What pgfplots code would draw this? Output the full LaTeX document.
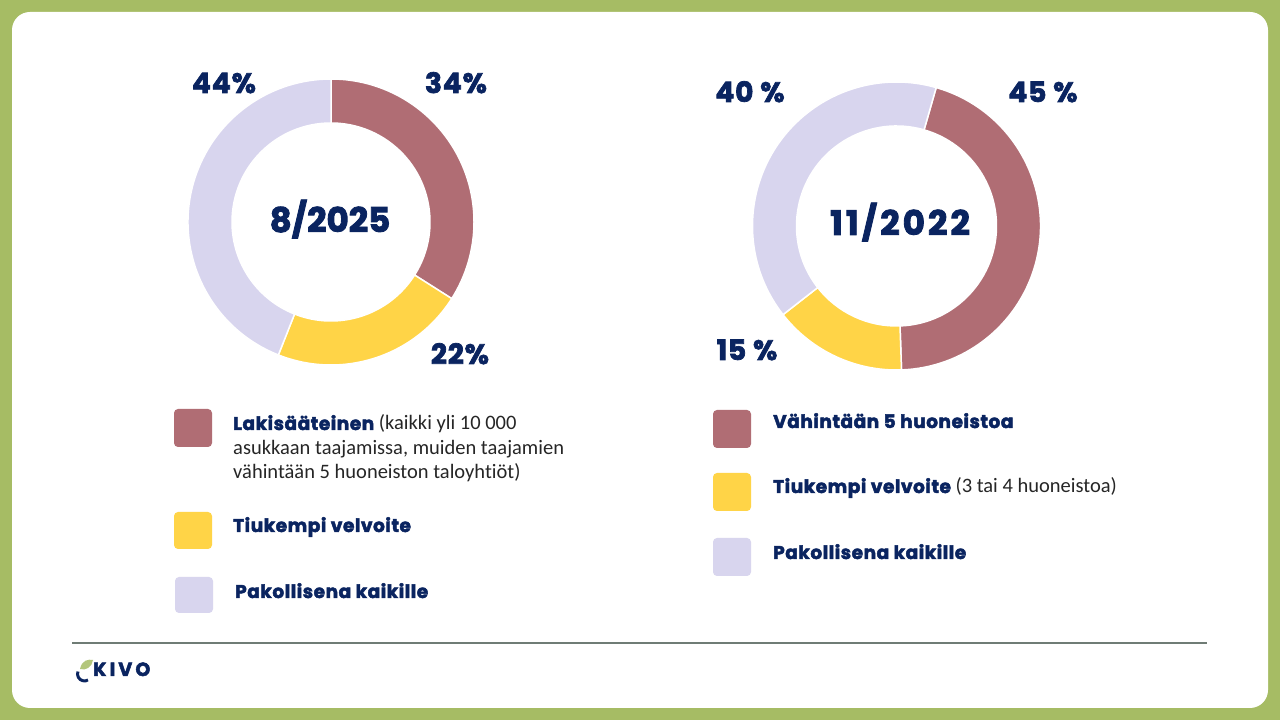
\documentclass[border=0pt]{standalone}
\usepackage{pgfplots}
\pgfplotsset{compat=1.18}
\usepackage{fontspec}
\usetikzlibrary{calc}
\setmainfont{Carlito}[Ligatures=NoCommon]
\newfontfamily\heavy{Poppins}[BoldFeatures={FakeBold=2.5}]
\newfontfamily\heavyw{Poppins}[BoldFeatures={FakeBold=2.5, LetterSpace=3}]
\newfontfamily\heavyx{Poppins}[BoldFeatures={FakeBold=2.5, LetterSpace=9}]
\newcommand\hv{\heavy\bfseries}
\newcommand\hw{\heavyw\bfseries}

\definecolor{navy}{HTML}{0A2460}
\definecolor{rose}{HTML}{B06D74}
\definecolor{sun}{HTML}{FFD447}
\definecolor{lav}{HTML}{D8D5EE}
\definecolor{frame}{HTML}{A6BC64}
\definecolor{rule}{HTML}{6F7C75}

% ring segment: cx, cy, R, r, from %, to %, colour, offset (deg clockwise from top)
\newcommand\sector[8]{%
  \fill[#7, draw=white, line width=1.5pt]
    (axis cs:#1,#2) ++({90-#8-3.6*#5}:#3pt)
    arc[start angle={90-#8-3.6*#5}, end angle={90-#8-3.6*#6}, radius=#3pt]
    -- ($(axis cs:#1,#2)+({90-#8-3.6*#6}:#4pt)$)
    arc[start angle={90-#8-3.6*#6}, end angle={90-#8-3.6*#5}, radius=#4pt]
    -- cycle;}

\newcommand\pct{\hw\fontsize{28}{30}\selectfont}
\newcommand\lab{\hw\fontsize{18.5}{25}\selectfont}
\newcommand\txt{\fontsize{20.5}{25}\selectfont}

\begin{document}
\begin{tikzpicture}
\begin{axis}[
  width=1280pt, height=720pt, scale only axis,
  xmin=0, xmax=1280, ymin=0, ymax=720,
  hide axis, clip=false]

\fill[frame] (axis cs:0,0) rectangle (axis cs:1280,720);
\fill[white, rounded corners=18pt] (axis cs:12,12) rectangle (axis cs:1268,708);

% 8/2025: 34 / 22 / 44
\sector{331}{498}{143}{99}{0}{34}{rose}{0}
\sector{331}{498}{143}{99}{34}{56}{sun}{0}
\sector{331}{498}{143}{99}{56}{100}{lav}{0}

% 11/2022: 45 / 15 / 40
\sector{896.5}{494}{144}{100}{0}{45}{rose}{16}
\sector{896.5}{494}{144}{100}{45}{60}{sun}{16}
\sector{896.5}{494}{144}{100}{60}{100}{lav}{16}

\begin{scope}[every node/.style={text=navy}]
\node[anchor=base, font=\pct] at (axis cs:224,627) {44\%};
\node[anchor=base, font=\pct] at (axis cs:456,627) {34\%};
\node[anchor=base, font=\pct] at (axis cs:460,356) {22\%};
\node[anchor=base, font=\hv\fontsize{34}{40}\selectfont] at (axis cs:330,488) {8/2025};

\node[anchor=base, font=\pct] at (axis cs:750,618) {40 \%};
\node[anchor=base, font=\pct] at (axis cs:1043,618) {45 \%};
\node[anchor=base, font=\pct] at (axis cs:747,360) {15 \%};
\node[anchor=base, font=\heavyx\bfseries\fontsize{34}{40}\selectfont] at (axis cs:900,485) {11/2022};
\end{scope}

% legend, left
\fill[rose, rounded corners=4pt] (axis cs:174,273) rectangle (axis cs:212,311);
\fill[sun, rounded corners=4pt] (axis cs:174,171) rectangle (axis cs:212,208);
\fill[lav, rounded corners=4pt] (axis cs:175,107) rectangle (axis cs:213,143);
\begin{scope}[every node/.style={anchor=base west, inner sep=0pt, text=black!85}]
\node[font=\txt] at (axis cs:233,290)
  {{\lab\color{navy}Lakisääteinen} (kaikki yli 10 000};
\node[font=\txt] at (axis cs:233,265) {asukkaan taajamissa, muiden taajamien};
\node[font=\txt] at (axis cs:233,241) {vähintään 5 huoneiston taloyhtiöt)};
\node[font=\lab, text=navy] at (axis cs:233,188) {Tiukempi velvoite};
\node[font=\lab, text=navy] at (axis cs:235,122) {Pakollisena kaikille};
\end{scope}

% legend, right
\fill[rose, rounded corners=4pt] (axis cs:713,272) rectangle (axis cs:751,310);
\fill[sun, rounded corners=4pt] (axis cs:713,209) rectangle (axis cs:751,247);
\fill[lav, rounded corners=4pt] (axis cs:713,144) rectangle (axis cs:751,182);
\begin{scope}[every node/.style={anchor=base west, inner sep=0pt, text=black!85}]
\node[font=\lab, text=navy] at (axis cs:773,292) {Vähintään 5 huoneistoa};
\node[font=\txt] at (axis cs:773,227)
  {{\lab\color{navy}Tiukempi velvoite} (3 tai 4 huoneistoa)};
\node[font=\lab, text=navy] at (axis cs:773,161) {Pakollisena kaikille};
\end{scope}

% footer
\draw[rule, line width=2pt] (axis cs:72,77) -- (axis cs:1207,77);
\draw[navy, line width=3pt] (axis cs:88,40) arc[start angle=-60, end angle=-200, radius=7pt];
\fill[frame!85!white] (axis cs:80,51) .. controls (axis cs:82,60) and (axis cs:88,61) .. (axis cs:93,60)
  .. controls (axis cs:92,53) and (axis cs:86,49) .. cycle;
\node[anchor=base west, inner sep=0pt, text=navy, font=\hv\fontsize{19}{20}\selectfont]
  at (axis cs:93,44) {K\,I\,V\,O};
\end{axis}
\end{tikzpicture}
\end{document}
